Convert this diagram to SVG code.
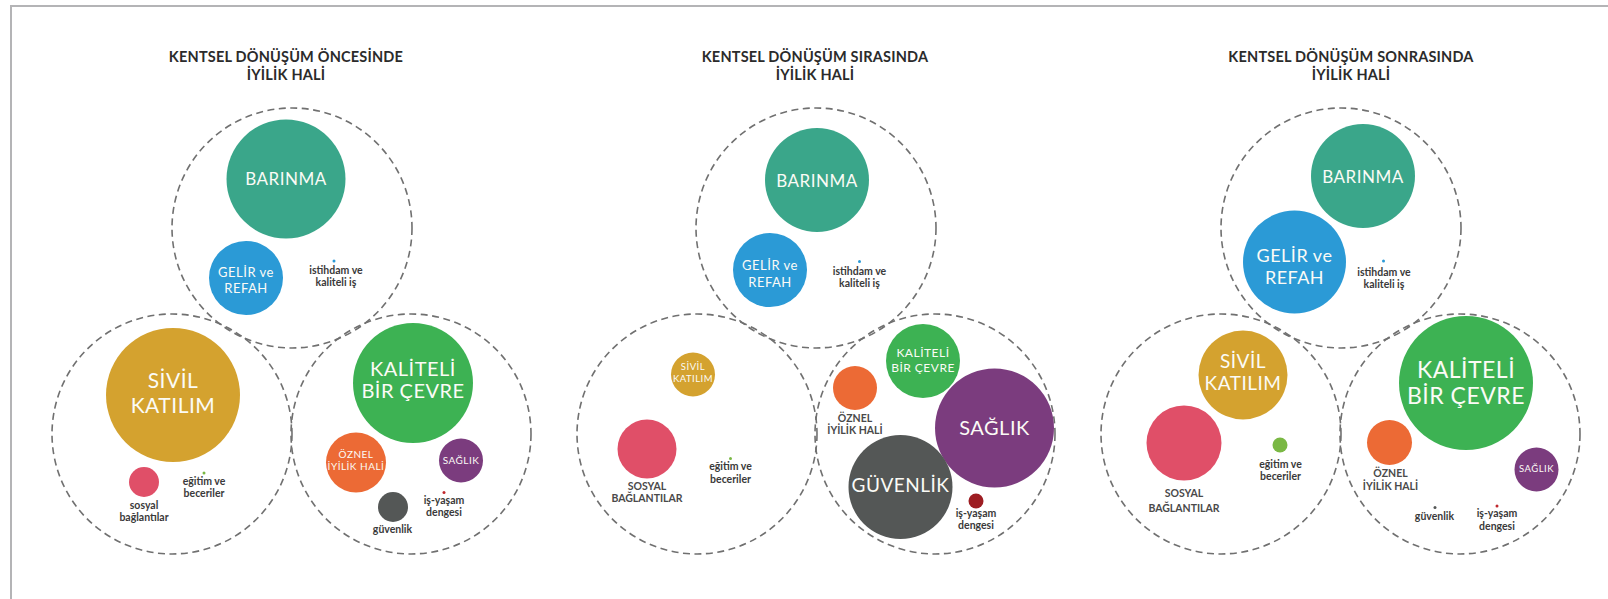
<svg xmlns="http://www.w3.org/2000/svg" width="1608" height="599" viewBox="0 0 1608 599">
<style>
.frame{fill:none;stroke:#b4b4b6;stroke-width:2}
.zone{fill:none;stroke:#707070;stroke-width:1.6;stroke-dasharray:7 4.5}
.title{font-family:Lato,"Liberation Sans",sans-serif;font-weight:700;font-size:14.5px;letter-spacing:0.2px;fill:#2b2b2b;text-anchor:middle}
.w{font-family:Lato,"Liberation Sans",sans-serif;fill:#fbfbf6;text-anchor:middle;letter-spacing:0.5px}
.s{font-family:Lato,"Liberation Sans",sans-serif;font-weight:700;font-size:10.5px;fill:#3a3a3a;text-anchor:middle}
.u{font-family:Lato,"Liberation Sans",sans-serif;font-weight:700;font-size:10.5px;fill:#4a4a4a;text-anchor:middle}
.teal{fill:#3aa68a}.blue{fill:#2b9ad6}.gold{fill:#d4a22f}.pink{fill:#e04f68}.green{fill:#3db253}.orange{fill:#ec6a35}.purple{fill:#7b3c7e}.dark{fill:#545756}.red{fill:#c0282d}.dred{fill:#9d1d22}.lgreen{fill:#7ab844}
</style>
<rect class="frame" x="11" y="6" width="1620" height="620"/>

<g id="zones">
<circle class="zone" cx="292" cy="228" r="120"/>
<circle class="zone" cx="172" cy="434" r="120"/>
<circle class="zone" cx="411" cy="434" r="120"/>
<circle class="zone" cx="816" cy="228" r="120"/>
<circle class="zone" cx="697" cy="434" r="120"/>
<circle class="zone" cx="935" cy="434" r="120"/>
<circle class="zone" cx="1341" cy="228" r="120"/>
<circle class="zone" cx="1221" cy="434" r="120"/>
<circle class="zone" cx="1460" cy="434" r="120"/>
</g>
<g id="connectors"/>

<!-- Panel 1 -->
<g id="p1-title"><text class="title" x="286" y="62">KENTSEL DÖNÜŞÜM ÖNCESİNDE</text><text class="title" x="286" y="79.5">İYİLİK HALİ</text></g>
<g id="p1-barinma"><circle class="teal" cx="286" cy="179" r="59.5"/><text class="w" x="286" y="185" font-size="17">BARINMA</text></g>
<g id="p1-gelir"><circle class="blue" cx="246" cy="278" r="37"/><text class="w" x="246" y="277" font-size="13">GELİR ve</text><text class="w" x="246" y="293" font-size="13">REFAH</text></g>
<g id="p1-istihdam"><circle class="blue" cx="334" cy="261" r="1.5"/><text class="s" x="336" y="274">istihdam ve</text><text class="s" x="336" y="285.5">kaliteli iş</text></g>
<g id="p1-sivil"><circle class="gold" cx="173" cy="395" r="67"/><text class="w" x="173" y="388" font-size="21">SİVİL</text><text class="w" x="173" y="413" font-size="21">KATILIM</text></g>
<g id="p1-sosyal"><circle class="pink" cx="144" cy="482" r="15"/><text class="s" x="144" y="509">sosyal</text><text class="s" x="144" y="521">bağlantılar</text></g>
<g id="p1-egitim"><circle class="lgreen" cx="204" cy="473" r="1.5"/><text class="s" x="204" y="485">eğitim ve</text><text class="s" x="204" y="497">beceriler</text></g>
<g id="p1-kaliteli"><circle class="green" cx="413" cy="383" r="60"/><text class="w" x="413" y="376" font-size="20">KALİTELİ</text><text class="w" x="413" y="397.5" font-size="20">BİR ÇEVRE</text></g>
<g id="p1-oznel"><circle class="orange" cx="356" cy="462.5" r="30"/><text class="w" x="356" y="457.5" font-size="10" letter-spacing="0">ÖZNEL</text><text class="w" x="356" y="470" font-size="10" letter-spacing="0">İYİLİK HALİ</text></g>
<g id="p1-saglik"><circle class="purple" cx="461" cy="460.5" r="22"/><text class="w" x="461" y="464" font-size="10" letter-spacing="0">SAĞLIK</text></g>
<g id="p1-guvenlik"><circle class="dark" cx="393" cy="507" r="15"/><text class="s" x="392.5" y="533">güvenlik</text></g>
<g id="p1-isyasam"><circle class="red" cx="444" cy="492.5" r="1.5"/><text class="s" x="444" y="503.5">iş-yaşam</text><text class="s" x="444" y="516">dengesi</text></g>

<!-- Panel 2 -->
<g id="p2-title"><text class="title" x="815" y="62">KENTSEL DÖNÜŞÜM SIRASINDA</text><text class="title" x="815" y="79.5">İYİLİK HALİ</text></g>
<g id="p2-barinma"><circle class="teal" cx="817" cy="180" r="52"/><text class="w" x="817" y="186.5" font-size="17">BARINMA</text></g>
<g id="p2-gelir"><circle class="blue" cx="770" cy="270" r="37"/><text class="w" x="770" y="269.5" font-size="13">GELİR ve</text><text class="w" x="770" y="286.5" font-size="13">REFAH</text></g>
<g id="p2-istihdam"><circle class="blue" cx="859.5" cy="261.5" r="1.5"/><text class="s" x="859.5" y="275">istihdam ve</text><text class="s" x="859.5" y="286.5">kaliteli iş</text></g>
<g id="p2-sivil"><circle class="gold" cx="693" cy="374.5" r="22"/><text class="w" x="693" y="370" font-size="9.5" letter-spacing="0">SİVİL</text><text class="w" x="693" y="381.5" font-size="9.5" letter-spacing="0">KATILIM</text></g>
<g id="p2-sosyal"><circle class="pink" cx="647" cy="449" r="29.5"/><text class="u" x="647" y="490">SOSYAL</text><text class="u" x="647" y="502">BAĞLANTILAR</text></g>
<g id="p2-egitim"><circle class="lgreen" cx="730.5" cy="458.5" r="1.5"/><text class="s" x="730.5" y="470">eğitim ve</text><text class="s" x="730.5" y="482.5">beceriler</text></g>
<g id="p2-kaliteli"><circle class="green" cx="923" cy="361" r="37"/><text class="w" x="923" y="356.5" font-size="12" letter-spacing="0">KALİTELİ</text><text class="w" x="923" y="371.5" font-size="12" letter-spacing="0">BİR ÇEVRE</text></g>
<g id="p2-oznel"><circle class="orange" cx="855" cy="388" r="22"/><text class="u" x="855" y="421.5">ÖZNEL</text><text class="u" x="855" y="434">İYİLİK HALİ</text></g>
<g id="p2-saglik"><circle class="purple" cx="994.5" cy="428" r="59.5"/><text class="w" x="994.5" y="435" font-size="20">SAĞLIK</text></g>
<g id="p2-guvenlik"><circle class="dark" cx="900.5" cy="487" r="52"/><text class="w" x="900.5" y="492" font-size="19">GÜVENLİK</text></g>
<g id="p2-isyasam"><circle class="dred" cx="976" cy="501" r="7.5"/><text class="s" x="976" y="516.5">iş-yaşam</text><text class="s" x="976" y="529">dengesi</text></g>

<!-- Panel 3 -->
<g id="p3-title"><text class="title" x="1351" y="62">KENTSEL DÖNÜŞÜM SONRASINDA</text><text class="title" x="1351" y="79.5">İYİLİK HALİ</text></g>
<g id="p3-barinma"><circle class="teal" cx="1363" cy="176" r="52"/><text class="w" x="1363" y="182.5" font-size="17">BARINMA</text></g>
<g id="p3-gelir"><circle class="blue" cx="1294.5" cy="262" r="51.5"/><text class="w" x="1294.5" y="261.5" font-size="18">GELİR ve</text><text class="w" x="1294.5" y="284" font-size="18">REFAH</text></g>
<g id="p3-istihdam"><circle class="blue" cx="1383.5" cy="261" r="1.5"/><text class="s" x="1384" y="275.5">istihdam ve</text><text class="s" x="1384" y="287.5">kaliteli iş</text></g>
<g id="p3-sivil"><circle class="gold" cx="1243" cy="375" r="44.5"/><text class="w" x="1243" y="367.5" font-size="19">SİVİL</text><text class="w" x="1243" y="389.5" font-size="19">KATILIM</text></g>
<g id="p3-sosyal"><circle class="pink" cx="1184" cy="443" r="37.5"/><text class="u" x="1184" y="497" font-size="12.5">SOSYAL</text><text class="u" x="1184" y="512" font-size="12.5">BAĞLANTILAR</text></g>
<g id="p3-egitim"><circle class="lgreen" cx="1280" cy="445" r="7.5"/><text class="s" x="1280.5" y="467.5">eğitim ve</text><text class="s" x="1280.5" y="479.5">beceriler</text></g>
<g id="p3-kaliteli"><circle class="green" cx="1466" cy="383" r="67"/><text class="w" x="1466" y="377.5" font-size="23">KALİTELİ</text><text class="w" x="1466" y="403.5" font-size="23">BİR ÇEVRE</text></g>
<g id="p3-oznel"><circle class="orange" cx="1389.5" cy="442.5" r="22.5"/><text class="u" x="1390.5" y="477">ÖZNEL</text><text class="u" x="1390.5" y="489.5">İYİLİK HALİ</text></g>
<g id="p3-saglik"><circle class="purple" cx="1536.5" cy="469.5" r="22"/><text class="w" x="1536.5" y="472" font-size="9.5" letter-spacing="0">SAĞLIK</text></g>
<g id="p3-guvenlik"><circle class="dark" cx="1435" cy="507.5" r="1.5"/><text class="s" x="1434.5" y="520">güvenlik</text></g>
<g id="p3-isyasam"><circle class="red" cx="1497" cy="506" r="1.5"/><text class="s" x="1497" y="517">iş-yaşam</text><text class="s" x="1497" y="529.5">dengesi</text></g>
</svg>
